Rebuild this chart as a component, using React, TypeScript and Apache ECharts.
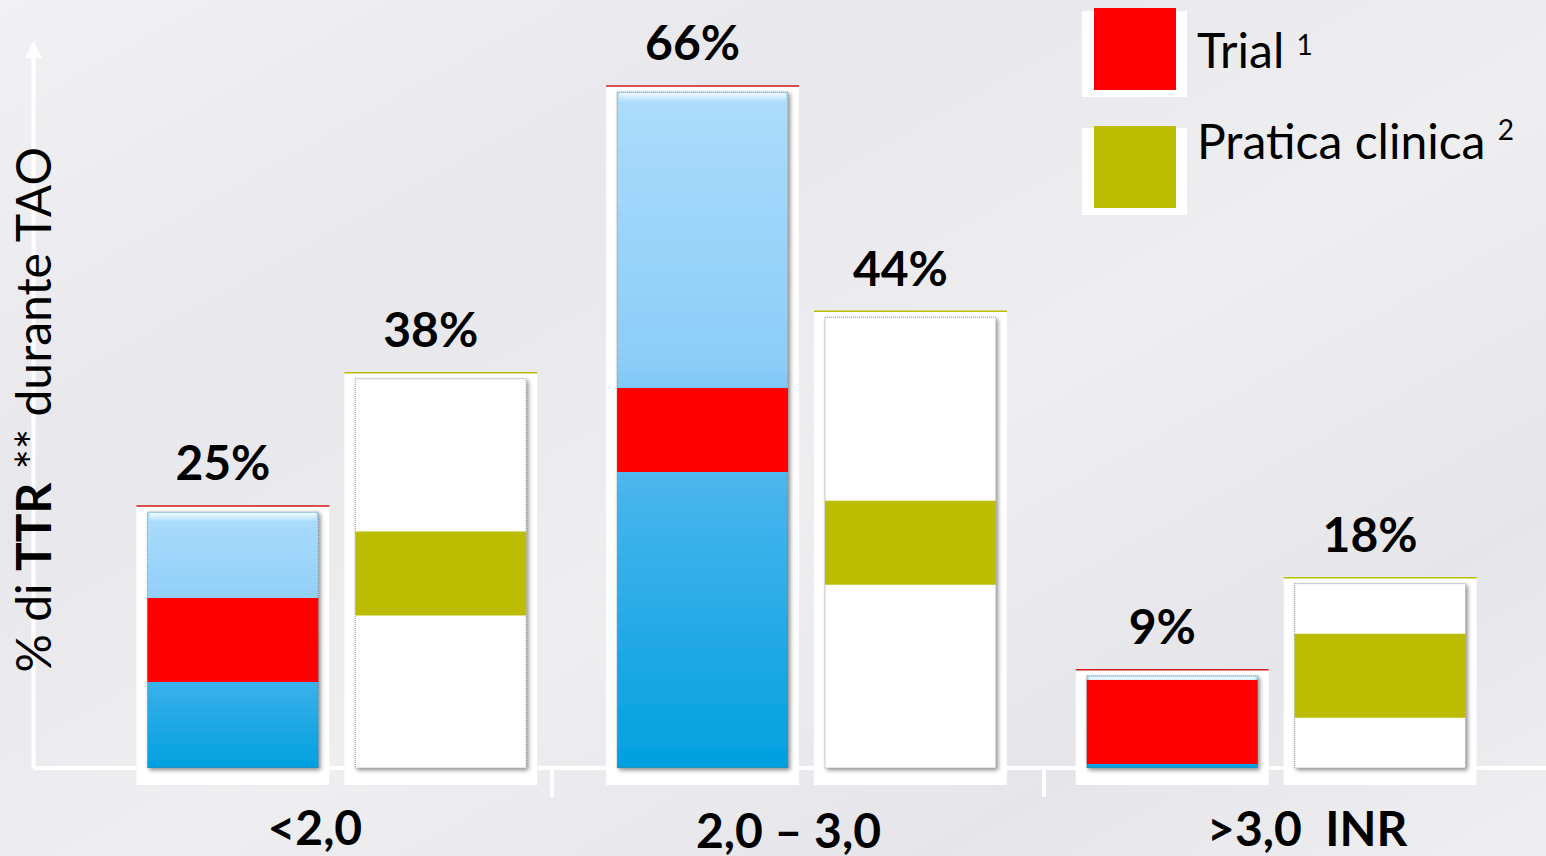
import React, { useEffect, useRef } from "react";
import * as echarts from "echarts";

const categories = ["<2,0", "2,0 – 3,0", ">3,0  INR"];
const trialValues = [25, 66, 9];
const clinicValues = [38, 44, 18];
const seriesNames = ["Trial", "Pratica clinica"];
const seriesRefs = ["1", "2"];
const yAxisTitle = ["% di ", "TTR", " ** durante TAO"];

const RED = "#ff0000";
const OLIVE = "#bcbd03";
const BAR_RATIO = 171 / 470;
const GAP_RATIO = 37 / 470;
const BAND_PX = 84;
const FONT = "Lato, 'Open Sans', sans-serif";

function makeRender(kind: "trial" | "clinic") {
  return (params: any, api: any) => {
    const ci = api.value(0);
    const v = api.value(1);
    const [cx, yTop] = api.coord([ci, v]);
    const [, yBase] = api.coord([ci, 0]);
    const band = api.size([1, 0])[0];
    const barW = band * BAR_RATIO;
    const gap = band * GAP_RATIO;
    const center = cx + (kind === "trial" ? -1 : 1) * (barW + gap) / 2;
    const left = center - barW / 2;
    const h = yBase - yTop;
    const bandH = Math.min(BAND_PX, h);
    const bandTop = yTop + (h - bandH) / 2;
    const frameTop = yTop - 6;
    const children: any[] = [
      {
        type: "rect",
        shape: { x: left - 11, y: frameTop, width: barW + 22, height: h + 6 + 17 },
        style: { fill: "#ffffff" },
      },
      {
        type: "line",
        shape: { x1: left - 11, y1: frameTop, x2: left + barW + 11, y2: frameTop },
        style: { stroke: kind === "trial" ? "#d01818" : OLIVE, lineWidth: 1.5 },
      },
      {
        type: "rect",
        shape: { x: left, y: yTop, width: barW, height: h },
        style: {
          fill:
            kind === "trial"
              ? new echarts.graphic.LinearGradient(0, 0, 0, 1, [
                  { offset: 0, color: "#acdcfc" },
                  { offset: 0.4, color: "#8ccdf8" },
                  { offset: 0.6, color: "#45b4ec" },
                  { offset: 1, color: "#02a0e0" },
                ])
              : "#ffffff",
          stroke: "rgba(110,110,110,0.7)",
          lineWidth: 1,
          lineDash: [1, 1],
          shadowBlur: 4,
          shadowOffsetX: 2,
          shadowOffsetY: 2,
          shadowColor: "rgba(0,0,0,0.45)",
        },
      },
    ];
    if (kind === "trial") {
      children.push({
        type: "rect",
        shape: { x: left + 2, y: yTop + 1, width: barW - 4, height: 9 },
        style: {
          fill: new echarts.graphic.LinearGradient(0, 0, 0, 1, [
            { offset: 0, color: "rgba(255,255,255,0.85)" },
            { offset: 1, color: "rgba(255,255,255,0)" },
          ]),
        },
      });
    }
    children.push({
      type: "rect",
      shape: { x: left, y: bandTop, width: barW, height: bandH },
      style: { fill: kind === "trial" ? RED : OLIVE },
    });
    children.push({
      type: "text",
      style: {
        text: `${v}%`,
        x: center - 10,
        y: yTop - 50,
        align: "center",
        verticalAlign: "middle",
        fontSize: 48,
        fontWeight: "bold",
        fontFamily: FONT,
        fill: "#000000",
      },
    });
    return { type: "group", children };
  };
}

const labelShift = [
  { padding: [0, 44, 0, 0] },
  { padding: [6, 36, 0, 0] },
  { padding: [2, 0, 0, 62] },
];

export default function App() {
  const ref = useRef<HTMLDivElement>(null);
  useEffect(() => {
    if (!ref.current) return;
    const chart = echarts.init(ref.current, undefined, { renderer: "svg" });
    const rich: any = {};
    labelShift.forEach((s, i) => {
      rich["c" + i] = {
        fontSize: 48,
        lineHeight: 44,
        fontWeight: "bold",
        fontFamily: FONT,
        color: "#000",
        ...s,
      };
    });
    chart.setOption({
      animation: false,
      backgroundColor: new echarts.graphic.LinearGradient(0, 0, 1, 1, [
        { offset: 0, color: "#f1f1f4" },
        { offset: 0.3, color: "#e8e8ec" },
        { offset: 0.55, color: "#eeeef1" },
        { offset: 0.8, color: "#e6e6ea" },
        { offset: 1, color: "#efeff2" },
      ]),
      grid: { left: 100, right: 35, top: 51, bottom: 88 },
      legend: {
        orient: "vertical",
        left: 1094,
        top: 8,
        padding: 0,
        itemWidth: 82,
        itemHeight: 82,
        itemGap: 25,
        icon: "rect",
        selectedMode: false,
        data: seriesNames,
        formatter: (name: string) => {
          const i = seriesNames.indexOf(name);
          return `{t${i}|${name} }{s${i}|${seriesRefs[i]}}`;
        },
        textStyle: {
          fontSize: 48,
          fontFamily: FONT,
          color: "#000",
          rich: {
            t0: { fontSize: 48, fontFamily: FONT, color: "#000", padding: [0, 0, 0, 16] },
            s0: { fontSize: 28, fontFamily: FONT, color: "#000", padding: [0, 0, 10, 0] },
            t1: { fontSize: 48, fontFamily: FONT, color: "#000", padding: [0, 0, 54, 16] },
            s1: { fontSize: 28, fontFamily: FONT, color: "#000", padding: [0, 0, 76, 0] },
          },
        },
      },
      xAxis: {
        type: "category",
        data: categories,
        axisLine: { show: false },
        axisTick: { show: false },
        axisLabel: {
          margin: 36,
          formatter: (value: string, index: number) => `{c${index}|${value}}`,
          rich,
        },
      },
      yAxis: {
        type: "value",
        min: 0,
        max: 70,
        z: 5,
        axisLine: { show: false },
        axisTick: { show: false },
        axisLabel: { show: false },
        splitLine: { show: false },
        name: `{a|${yAxisTitle[0]}}{b|${yAxisTitle[1]}}{a|${yAxisTitle[2]}}`,
        nameLocation: "middle",
        nameRotate: 90,
        nameGap: 46,
        nameTextStyle: {
          rich: {
            a: { fontSize: 48, fontFamily: FONT, color: "#000" },
            b: { fontSize: 48, fontFamily: FONT, fontWeight: "bold", color: "#000" },
          },
        },
      },
      graphic: [
        { type: "rect", z: 1, shape: { x: 1082, y: 11, width: 105, height: 86 }, style: { fill: "#fff" } },
        { type: "rect", z: 1, shape: { x: 1082, y: 128, width: 105, height: 87 }, style: { fill: "#fff" } },
        { type: "line", z: 1, shape: { x1: 33.5, y1: 56, x2: 33.5, y2: 768 }, style: { stroke: "#fff", lineWidth: 4 } },
        { type: "polygon", z: 1, shape: { points: [[33.5, 41], [25, 58], [42, 58]] }, style: { fill: "#fff" } },
        { type: "line", z: 1, shape: { x1: 33, y1: 768, x2: 1546, y2: 768 }, style: { stroke: "#fff", lineWidth: 4 } },
        { type: "line", z: 1, shape: { x1: 552, y1: 768, x2: 552, y2: 797 }, style: { stroke: "#fff", lineWidth: 4 } },
        { type: "line", z: 1, shape: { x1: 1044, y1: 768, x2: 1044, y2: 797 }, style: { stroke: "#fff", lineWidth: 4 } },
      ],
      series: [
        {
          name: seriesNames[0],
          type: "custom",
          z: 3,
          itemStyle: { color: RED },
          encode: { x: 0, y: 1 },
          data: trialValues.map((v, i) => [i, v]),
          renderItem: makeRender("trial"),
        },
        {
          name: seriesNames[1],
          type: "custom",
          z: 3,
          itemStyle: { color: OLIVE },
          encode: { x: 0, y: 1 },
          data: clinicValues.map((v, i) => [i, v]),
          renderItem: makeRender("clinic"),
        },
      ],
    });
    return () => chart.dispose();
  }, []);
  return (
    <div
      ref={ref}
      style={{ position: "fixed", left: 0, top: 0, width: 1546, height: 856 }}
    />
  );
}
